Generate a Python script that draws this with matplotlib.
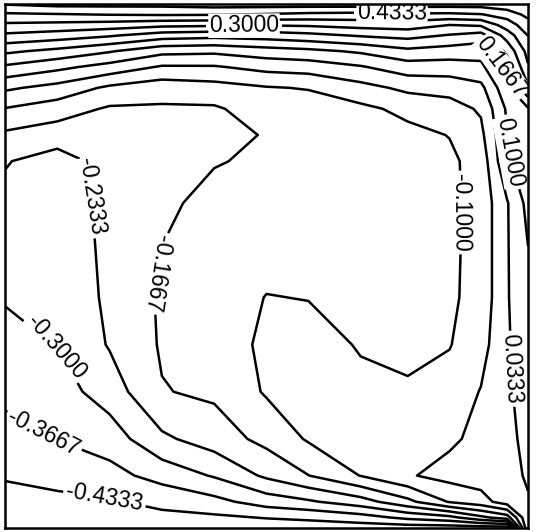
import numpy as np
import matplotlib
matplotlib.use("Agg")
import matplotlib.pyplot as plt

plt.rcParams['font.family'] = ['Liberation Sans', 'DejaVu Sans']

# grid nodes across the box (0 = left/bottom, 1 = right/top)
x_nodes = [0.0, 0.1, 0.2, 0.3, 0.4, 0.5, 0.58, 0.68, 0.77, 0.85, 0.91, 0.96, 1.0]
y_nodes = [1.0, 0.98, 0.96, 0.94, 0.91, 0.88, 0.84, 0.80, 0.75, 0.70,
           0.62, 0.53, 0.44, 0.35, 0.26, 0.17, 0.10, 0.05, 0.02, 0.0]

# field values, one list per row (top to bottom)
y100 = [0.505, 0.52, 0.52, 0.52, 0.53, 0.53, 0.53, 0.53, 0.53, 0.53, 0.53, 0.55, 0.60]
y098 = [0.423, 0.429, 0.436, 0.440, 0.438, 0.428, 0.418, 0.413, 0.423, 0.420, 0.430, 0.460, 0.520]
y096 = [0.354, 0.346, 0.336, 0.318, 0.312, 0.305, 0.310, 0.325, 0.333, 0.300, 0.310, 0.400, 0.470]
y094 = [0.287, 0.268, 0.241, 0.200, 0.189, 0.198, 0.214, 0.240, 0.256, 0.228, 0.205, 0.330, 0.435]
y091 = [0.180, 0.148, 0.106, 0.053, 0.047, 0.070, 0.083, 0.110, 0.150, 0.135, 0.125, 0.250, 0.390]
y088 = [0.090, 0.051, 0.009, -0.040, -0.039, -0.011, -0.003, 0.028, 0.069, 0.070, 0.085, 0.190, 0.360]
y084 = [-0.022, -0.056, -0.113, -0.139, -0.126, -0.105, -0.096, -0.056, -0.018, -0.010, 0.015, 0.150, 0.290]
y080 = [-0.103, -0.134, -0.175, -0.175, -0.175, -0.135, -0.135, -0.115, -0.083, -0.060, -0.025, 0.110, 0.160]
y075 = [-0.179, -0.202, -0.195, -0.185, -0.185, -0.163, -0.150, -0.135, -0.118, -0.098, -0.050, 0.097, 0.145]
y070 = [-0.229, -0.262, -0.208, -0.185, -0.170, -0.158, -0.150, -0.140, -0.125, -0.112, -0.075, 0.092, 0.135]
y062 = [-0.250, -0.270, -0.215, -0.178, -0.150, -0.140, -0.140, -0.135, -0.125, -0.113, -0.078, 0.028, 0.120]
y053 = [-0.273, -0.275, -0.218, -0.1655, -0.140, -0.125, -0.125, -0.125, -0.122, -0.112, -0.078, 0.028, 0.098]
y044 = [-0.295, -0.285, -0.220, -0.158, -0.135, -0.098, -0.102, -0.115, -0.118, -0.110, -0.078, 0.028, 0.085]
y035 = [-0.322, -0.298, -0.228, -0.160, -0.140, -0.085, -0.075, -0.105, -0.110, -0.103, -0.060, 0.026, 0.070]
y026 = [-0.352, -0.330, -0.268, -0.170, -0.155, -0.093, -0.075, -0.085, -0.095, -0.075, -0.030, 0.025, 0.055]
y017 = [-0.389, -0.3645, -0.335, -0.246, -0.201, -0.147, -0.093, -0.070, -0.065, -0.045, -0.015, 0.022, 0.045]
y010 = [-0.429, -0.417, -0.389, -0.342, -0.294, -0.221, -0.168, -0.098, -0.040, -0.010, 0.000, 0.020, 0.038]
y005 = [-0.450, -0.445, -0.440, -0.416, -0.387, -0.336, -0.310, -0.263, -0.185, -0.095, -0.060, 0.000, 0.030]
y002 = [-0.460, -0.458, -0.455, -0.450, -0.445, -0.430, -0.420, -0.395, -0.350, -0.320, -0.250, -0.200, 0.030]
y000 = [-0.470, -0.470, -0.470, -0.470, -0.470, -0.470, -0.470, -0.470, -0.470, -0.470, -0.470, -0.470, 0.030]

rows = [y100, y098, y096, y094, y091, y088, y084, y080, y075, y070,
        y062, y053, y044, y035, y026, y017, y010, y005, y002, y000]

levels = np.linspace(-0.5, 0.5, 16)

# which lines carry a label, and roughly where
label_levels = [0.3, 13 / 30, 1 / 6, 0.1, -0.1, 1 / 30,
                -7 / 30, -1 / 6, -0.3, -11 / 30, -13 / 30]
label_spots = [(0.457, 0.960), (0.740, 0.983), (0.950, 0.880), (0.968, 0.717),
               (0.885, 0.602), (0.971, 0.304), (0.182, 0.635), (0.281, 0.488),
               (0.096, 0.342), (0.076, 0.185), (0.191, 0.061)]
# labels whose text reads the other way along the line
flipped = [-1 / 6]

x = np.array(x_nodes)
y = np.array(y_nodes[::-1])
z = np.array(rows[::-1])

fig = plt.figure(figsize=(5.39, 5.32), dpi=100)
ax = fig.add_axes([5 / 539, 4 / 532, 523 / 539, 524 / 532])

labelled = [levels[np.argmin(np.abs(levels - lev))] for lev in label_levels]
plain = [lev for lev in levels if not np.any(np.isclose(lev, labelled))]

ax.contour(x, y, z, levels=plain, colors='black', linewidths=1.8,
           linestyles='solid')

for lev, spot in zip(labelled, label_spots):
    cs = ax.contour(x, y, z, levels=[lev], colors='black', linewidths=1.8,
                    linestyles='solid')
    texts = ax.clabel(cs, manual=[spot], inline=True, fmt='%1.4f',
                      fontsize=16.5, inline_spacing=3)
    for t in texts:
        # labels sit on a white patch that hides neighbouring lines
        t.set_bbox(dict(facecolor='white', edgecolor='none', pad=0.5))
        t.set_zorder(5)
        if np.any(np.isclose(lev, flipped, atol=1e-3)):
            t.set_rotation(t.get_rotation() - 180)

ax.set_xlim(0, 1)
ax.set_ylim(0, 1)
ax.set_xticks([])
ax.set_yticks([])
for sp in ax.spines.values():
    sp.set_linewidth(1.8)
    sp.set_zorder(6)

fig.savefig('out.png', dpi=100)
